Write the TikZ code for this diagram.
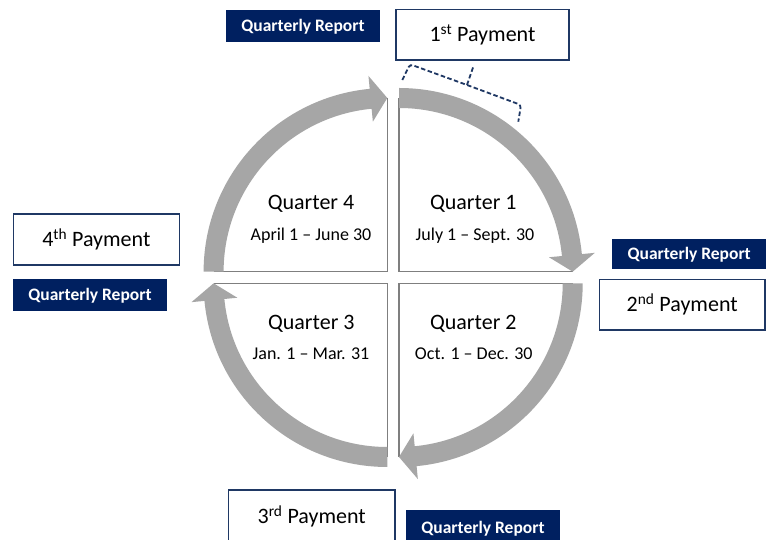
\documentclass[tikz,border=0pt]{standalone}
\usepackage{fontspec}
\setmainfont{Carlito}
\usepackage{tikz}
\usetikzlibrary{shapes,arrows}
\definecolor{navy}{HTML}{002060}
\definecolor{boxline}{HTML}{1F3864}
\definecolor{bandgray}{HTML}{A6A6A6}
\definecolor{edgegray}{HTML}{7F7F7F}

\begin{document}
\begin{tikzpicture}[x=1pt,y=1pt,
        band/.style={fill=bandgray},
        edge/.style={draw=edgegray,line width=1.5pt},
        paybox/.style={rectangle,draw=boxline,line width=1.2pt,fill=white,
            font=\fontsize{22}{26}\selectfont,text height=14.2pt,text depth=0pt},
        reportbox/.style={rectangle,fill=navy,text=white,
            font=\fontsize{17.5}{21}\selectfont\bfseries,text height=11.3pt,text depth=0pt},
        quarterlbl/.style={anchor=base,font=\fontsize{22}{26}\selectfont},
        datelbl/.style={anchor=base,font=\fontsize{18}{22}\selectfont}]
        % 画布
        \useasboundingbox (0,0) rectangle (771,540);
        \fill[white] (0,0) rectangle (771,540);

        % 第一季度
        \begin{scope}[shift={(399,268.3)}]
            \draw[edge] (0,173.7) -- (0,0) -- (173.7,0);
            \fill[band] (90:183.7) arc[start angle=90,end angle=5.5,radius=183.7]
                -- (5.5:196.7) -- (0:173.7) -- (5.5:150.7) -- (5.5:163.7)
                arc[start angle=5.5,end angle=90,radius=163.7] -- cycle;
        \end{scope}

        % 第二季度
        \begin{scope}[shift={(399,256.7)}]
            \draw[edge] (173.7,0) -- (0,0) -- (0,-173.7);
            \fill[band] (0:183.7) arc[start angle=0,end angle=-84.5,radius=183.7]
                -- (-84.5:196.7) -- (-90:173.7) -- (-84.5:150.7) -- (-84.5:163.7)
                arc[start angle=-84.5,end angle=0,radius=163.7] -- cycle;
        \end{scope}

        % 第三季度
        \begin{scope}[shift={(387.3,256.7)}]
            \draw[edge] (0,-173.7) -- (0,0) -- (-173.7,0);
            \fill[band] (-90:183.7) arc[start angle=-90,end angle=-174.5,radius=183.7]
                -- (-174.5:196.7) -- (-180:173.7) -- (-174.5:150.7) -- (-174.5:163.7)
                arc[start angle=-174.5,end angle=-90,radius=163.7] -- cycle;
        \end{scope}

        % 第四季度
        \begin{scope}[shift={(387.3,268.3)}]
            \draw[edge] (-173.7,0) -- (0,0) -- (0,173.7);
            \fill[band] (180:183.7) arc[start angle=180,end angle=95.5,radius=183.7]
                -- (95.5:196.7) -- (90:173.7) -- (95.5:150.7) -- (95.5:163.7)
                arc[start angle=95.5,end angle=180,radius=163.7] -- cycle;
        \end{scope}

        % 季度标签
        \node[quarterlbl] (q1) at (473.3,330.7) {Quarter 1};
        \node[datelbl] (d1) at (475,299) {July 1 -- Sept. 30};
        \node[quarterlbl] (q2) at (473.3,210.7) {Quarter 2};
        \node[datelbl] (d2) at (473.8,180) {Oct. 1 -- Dec. 30};
        \node[quarterlbl] (q3) at (311.3,210.7) {Quarter 3};
        \node[datelbl] (d3) at (311,180) {Jan. 1 -- Mar. 31};
        \node[quarterlbl] (q4) at (311,330.7) {Quarter 4};
        \node[datelbl] (d4) at (311,299) {April 1 -- June 30};

        % 付款框
        \node[paybox,minimum width=173,minimum height=50.7] (pay1) at (482.5,505.3) {1\textsuperscript{st} Payment};
        \node[paybox,minimum width=165.7,minimum height=50.7] (pay2) at (682.2,235.3) {2\textsuperscript{nd} Payment};
        \node[paybox,minimum width=166.7,minimum height=53] (pay3) at (311.7,23.5) {3\textsuperscript{rd} Payment};
        \node[paybox,minimum width=166,minimum height=51] (pay4) at (96.3,300.5) {4\textsuperscript{th} Payment};

        % 季度报告
        \node[reportbox,minimum width=154,minimum height=32] (rep1) at (303,514) {Quarterly Report};
        \node[reportbox,minimum width=153.7,minimum height=30.3] (rep2) at (689.2,285.8) {Quarterly Report};
        \node[reportbox,minimum width=154,minimum height=36] (rep3) at (483,12) {Quarterly Report};
        \node[reportbox,minimum width=153.4,minimum height=32] (rep4) at (90,245) {Quarterly Report};

        % 括号
        \coordinate (brA) at (402.3,460);
        \coordinate (brB) at (410,475.7);
        \coordinate (brM) at (467,455);
        \coordinate (brC) at (521,435);
        \coordinate (brD) at (518.3,418.3);
        \coordinate (brT) at (473.3,473.3);
        \draw[boxline,line width=1.8pt,dash pattern=on 4.5pt off 2.5pt,rounded corners=3pt]
            (brA) -- (brB) -- (brM) -- (brC) -- (brD);
        \draw[boxline,line width=1.8pt,dash pattern=on 4.5pt off 2.5pt] (brM) -- (brT);
    \end{tikzpicture}
\end{document}
